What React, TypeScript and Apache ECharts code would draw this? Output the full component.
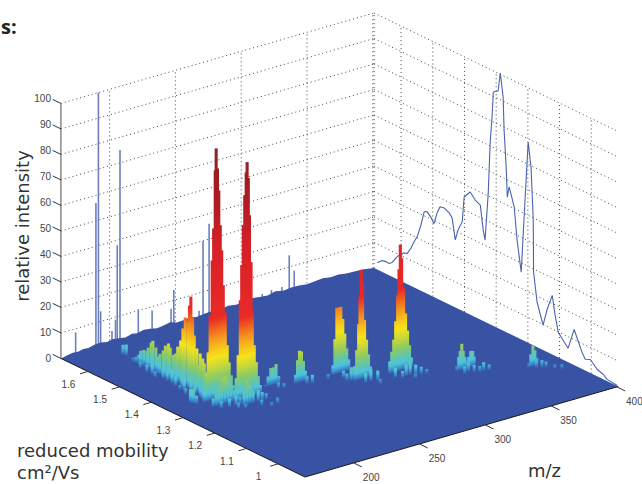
import React, { useEffect, useRef } from "react";
import * as echarts from "echarts";

// Axis ranges and ticks
const mzMin = 163;
const mzMax = 401;
const mobMin = 0.915;
const mobMax = 1.685;
const mzTicks = [200, 250, 300, 350, 400];
const mobTicks = [1.6, 1.5, 1.4, 1.3, 1.2, 1.1, 1];
const intensityTicks = [0, 10, 20, 30, 40, 50, 60, 70, 80, 90, 100];

// Mass spectrum projected on the back-left wall: [m/z, intensity]
const wallSpikes = [
  [174.2, 8.5], [189.6, 57], [191.5, 100], [193.2, 14], [201.8, 5], [205.8, 38], [207.9, 75], [204.5, 9],
  [221.8, 10.5], [232.3, 8.5], [246.7, 7], [248.8, 14], [271, 30], [275.6, 36], [268, 3], [316, 2.5],
  [323, 3], [331, 3], [336.5, 14.6], [340.3, 8],
];

// Low noise along the back-left edge of the floor
const edgeMz = [163, 168, 172, 176, 180, 184, 188, 193, 198, 202, 207, 212, 217, 221, 226, 231, 236, 241, 246, 251, 256, 261, 266, 272, 278, 284, 290, 296, 302, 308, 314, 320, 326, 332, 338, 344, 350, 356, 362, 368, 374, 380, 386, 392, 401];
const edgeZ = [0, 0.5, 0.9, 0.7, 1.2, 1, 1.5, 1.8, 1.2, 1.7, 1.4, 0.9, 1.6, 1.2, 1.9, 1.5, 1, 1.3, 1.8, 1, 1.1, 1.4, 0.9, 1.3, 1.5, 1.1, 1.7, 1.2, 1.4, 2, 1.6, 1.3, 2.1, 1.4, 1.7, 1.6, 1.2, 1.5, 1.8, 1.3, 1.5, 1, 0.9, 0.7, 0];

// Mobility spectrum projected on the back-right wall
const wallMob = [1.675, 1.66, 1.647, 1.638, 1.628, 1.615, 1.609, 1.6, 1.593, 1.581, 1.568, 1.559, 1.549, 1.537, 1.527, 1.518, 1.505, 1.496, 1.486, 1.477, 1.464, 1.448, 1.439, 1.429, 1.42, 1.407, 1.401, 1.382, 1.366, 1.35, 1.341, 1.335, 1.325, 1.319, 1.313, 1.309, 1.294, 1.287, 1.278, 1.275, 1.268, 1.265, 1.259, 1.25, 1.243, 1.234, 1.221, 1.209, 1.199, 1.19, 1.183, 1.182, 1.171, 1.152, 1.139, 1.123, 1.114, 1.104, 1.073, 1.054, 1.029, 1.019, 1.003, 0.981, 0.962, 0.95, 0.918];
const wallIntensity = [2.7, 4.4, 4.8, 4.6, 5.6, 8.3, 9.4, 10, 11.5, 11.9, 15, 17.9, 20.5, 25.9, 31.6, 32.2, 30.6, 28.8, 33.7, 36.6, 36.9, 35.9, 34.5, 26.5, 31, 34.9, 45, 48.1, 45.9, 44.9, 35.7, 32.1, 51.1, 71.1, 81.7, 91.7, 93, 100.5, 91.6, 78.9, 63.6, 53.1, 57.5, 53.7, 50.5, 38.2, 26.4, 55.4, 78.7, 69.4, 49, 28.8, 17.7, 9.8, 16.8, 23.2, 16, 9.8, 5.5, 14, 6.5, 4.4, 5.3, 2.7, 1.9, 0.7, 0.2];

// Surface: [m/z, mobility, intensity]
const tallPeakA = [
  [187.8, 1.336, 6.8], [189.3, 1.336, 11.6], [190.8, 1.336, 19.3], [192.3, 1.336, 33.6], [193.9, 1.336, 54.9], [195, 1.336, 67.3], [196.2, 1.336, 89.9], [196.9, 1.336, 98.4], [197.9, 1.336, 90.4], [198.9, 1.336, 81.6], [200, 1.336, 67.8], [201.1, 1.336, 57.8], [202.3, 1.336, 43.9], [203.8, 1.336, 33], [205.3, 1.336, 20], [206.8, 1.336, 13], [208.4, 1.336, 7.7], [209.9, 1.336, 3.6],
  [187.4, 1.306, 3.5], [189.7, 1.306, 5.6], [192, 1.306, 8], [194.2, 1.306, 10.5], [196.5, 1.306, 11], [198.8, 1.306, 9], [201, 1.306, 6.6], [203.4, 1.306, 3.6],
  [190, 1.291, 3], [195, 1.286, 3.5], [200, 1.286, 4], [203, 1.286, 3], [198, 1.27, 2.5], [201.5, 1.262, 2],
];
const tallPeakB = [
  [203.4, 1.306, 4.4], [204.9, 1.306, 8.9], [206.4, 1.306, 17.7], [208, 1.306, 39], [209.1, 1.306, 52.6], [210.3, 1.306, 68.1], [211.4, 1.306, 79.7], [212.5, 1.306, 88.5], [213.2, 1.306, 92.4], [214.1, 1.306, 86], [215, 1.306, 71.3], [216.2, 1.306, 52.7], [217.1, 1.306, 33.8], [218.6, 1.306, 19.8], [220.2, 1.306, 12.9], [221.7, 1.306, 7.2], [223.2, 1.306, 3.5],
  [203.7, 1.276, 6], [206, 1.276, 9.8], [208.3, 1.276, 7.5], [210.6, 1.276, 5], [214.4, 1.276, 4.6], [217.4, 1.276, 3.4], [220.5, 1.276, 2.5], [224, 1.256, 1.6], [222, 1.246, 2], [212, 1.255, 2.5], [216, 1.24, 1.8],
];
const ridge = [
  [194.1, 1.586, 1.6], [194.3, 1.578, 2.4], [194.6, 1.57, 3.7], [194, 1.562, 5.8], [194.4, 1.554, 6.6], [194.8, 1.546, 6.7], [194.2, 1.539, 8.4], [194.5, 1.531, 10.8], [194.1, 1.524, 12], [194.7, 1.517, 9.7], [194.3, 1.509, 6.7], [194, 1.501, 8.3], [194.5, 1.493, 10], [194.2, 1.485, 12.4], [194.6, 1.477, 13.7], [194, 1.469, 12.6], [194.4, 1.461, 10.3], [194.7, 1.454, 11.2], [194.2, 1.446, 14.4], [194.5, 1.438, 17.3], [194.3, 1.43, 22.5], [194.1, 1.422, 27.3], [194.4, 1.414, 26.5], [194.2, 1.409, 32.7], [194.3, 1.405, 36.5], [194.4, 1.4, 28.6], [194.2, 1.394, 21.9], [194.5, 1.387, 17.2], [194.3, 1.381, 10.9], [194.1, 1.375, 16], [194.4, 1.368, 14.4], [194.2, 1.362, 12.9], [194.5, 1.356, 9.7], [194.2, 1.349, 6.2],
  [190, 1.526, 3], [189, 1.496, 2.5], [191, 1.466, 4], [190, 1.436, 4], [189.5, 1.406, 5], [190.5, 1.376, 6], [190, 1.351, 4], [188.5, 1.416, 2], [187, 1.391, 2.5], [186, 1.366, 3],
  [191, 1.551, 2.5], [190.5, 1.511, 4], [191.5, 1.481, 5], [191, 1.451, 5.5], [191.5, 1.421, 6], [191, 1.391, 6.5], [191, 1.361, 5],
];
const peakC = [
  [304.5, 1.235, 5], [306, 1.235, 8.5], [307.5, 1.235, 13], [309, 1.235, 20], [310.5, 1.235, 30], [311.5, 1.235, 40], [312.5, 1.235, 49.5], [313.5, 1.235, 44], [315, 1.235, 32], [316.5, 1.235, 22], [318, 1.235, 15], [319.5, 1.235, 9], [321, 1.235, 4],
  [303, 1.211, 4], [306, 1.201, 3], [310, 1.206, 5], [313, 1.206, 6], [316, 1.201, 4], [319, 1.196, 3], [322, 1.191, 2], [312, 1.185, 2],
];
const peakD = [
  [280.5, 1.246, 6], [282, 1.246, 12], [283.5, 1.246, 22], [284.5, 1.246, 33], [285.5, 1.246, 43], [286.5, 1.246, 37], [288, 1.246, 23], [289.5, 1.246, 15], [291, 1.246, 9], [292.5, 1.246, 4],
  [292, 1.221, 4], [288, 1.226, 5], [284, 1.226, 4], [277, 1.256, 3], [279, 1.251, 5], [290, 1.205, 2],
];
const peakE = [
  [276, 1.296, 4], [277.5, 1.296, 14], [279, 1.296, 26], [280.5, 1.296, 26], [282, 1.296, 26], [283.5, 1.296, 21], [285, 1.296, 15], [286.5, 1.296, 9], [288, 1.296, 4.5],
  [278, 1.271, 3], [283, 1.266, 4], [287, 1.266, 3], [270, 1.286, 2],
];
const peakF = [
  [250, 1.306, 3.5], [251.5, 1.306, 9], [253, 1.306, 12.5], [254.5, 1.306, 12], [256, 1.306, 8], [257.5, 1.306, 4], [259, 1.306, 1.5],
  [255, 1.291, 3], [258, 1.286, 3.5],
];
const peakG = [
  [232, 1.326, 1], [234, 1.326, 4], [236, 1.326, 7], [238, 1.326, 7], [240, 1.326, 8], [242, 1.326, 3],
  [237, 1.306, 2.5], [240, 1.301, 2],
];
const peakH = [
  [338.8, 1.166, 2], [340.3, 1.166, 5.5], [341.4, 1.166, 7.7], [342.6, 1.166, 10.3], [343.7, 1.166, 7.4], [344.9, 1.166, 4.9], [346.4, 1.166, 3.1], [347.9, 1.166, 4.4], [349.4, 1.166, 6.5], [350.9, 1.166, 6.3], [352, 1.166, 3.8],
  [352, 1.136, 3.5], [355, 1.131, 2.5], [340, 1.146, 3], [346, 1.141, 3], [349, 1.136, 2.5], [344, 1.151, 3.5],
];
const peakI = [
  [376.7, 1.096, 1.8], [378.2, 1.096, 5.1], [379.8, 1.096, 8.4], [381.3, 1.096, 6.2], [382.8, 1.096, 2.9],
  [385, 1.076, 2.5], [383, 1.081, 3], [388, 1.061, 1.8], [391, 1.051, 2], [380, 1.086, 3],
];
const specks = [
  [181, 1.351, 5.5], [181.5, 1.344, 6], [182.5, 1.338, 3.5],
  [196, 1.626, 4], [196.5, 1.618, 4.5], [197, 1.631, 2],
];

// Height colour scale: [intensity, colour]
const heightColors: [number, string][] = [
  [0, "#3953a4"], [1.2, "#3a86c8"], [3, "#4cc3dc"], [6, "#66c6a4"], [9, "#8ecb62"], [13, "#c8d83a"], [16.5, "#f4e41a"],
  [21, "#f9b91c"], [25, "#f58a1f"], [32, "#ea2a26"], [60, "#d52027"], [72, "#b81d23"], [86, "#a01b20"], [101, "#882a2c"],
];

const FLOOR = "#3953a4";
const LABEL_FONT = '10px "Liberation Sans Narrow", "Liberation Sans", sans-serif';
const TITLE_FONT = '18px "DejaVu Sans", sans-serif';

function project(m: number, k: number, z: number): number[] {
  return [
    305 + 1.316 * (m - 163) - 317 * (k - 0.915),
    477 - 0.38 * (m - 163) - 154 * (k - 0.915) - 2.55 * z,
  ];
}

function mix(a: string, b: string, t: number): string {
  const p = (c: string, i: number) => parseInt(c.slice(i, i + 2), 16);
  const v = [1, 3, 5].map((i) => Math.round(p(a, i) + (p(b, i) - p(a, i)) * t));
  return `rgb(${v[0]},${v[1]},${v[2]})`;
}

function gradientFor(z: number) {
  const stops: { offset: number; color: string }[] = [];
  for (let i = 0; i < heightColors.length; i++) {
    const [h, c] = heightColors[i];
    if (h >= z) {
      const [h0, c0] = heightColors[i - 1];
      stops.unshift({ offset: 0, color: mix(c0, c, (z - h0) / (h - h0)) });
      break;
    }
    stops.unshift({ offset: 1 - h / z, color: c });
  }
  return { type: "linear", x: 0, y: 0, x2: 0, y2: 1, colorStops: stops };
}

const App = () => {
  const ref = useRef<HTMLDivElement>(null);
  useEffect(() => {
    document.body.style.margin = "0";
    const chart = echarts.init(ref.current!, undefined, { renderer: "svg" });

    const pt = (api: any, m: number, k: number, z: number) => api.coord(project(m, k, z));

    const segments: number[][] = [];
    for (const z of intensityTicks.slice(1)) {
      segments.push([mzMin, mobMax, z, mzMax, mobMax, z]);
      segments.push([mzMax, mobMax, z, mzMax, mobMin, z]);
    }
    for (const m of mzTicks) segments.push([m, mobMax, 0, m, mobMax, 100]);
    for (const k of mobTicks) segments.push([mzMax, k, 0, mzMax, k, 100]);
    segments.push([mzMax, mobMax, 0, mzMax, mobMax, 100]);

    const stalks = [...tallPeakA, ...tallPeakB, ...ridge, ...peakC, ...peakD, ...peakE, ...peakF, ...peakG, ...peakH, ...peakI, ...specks]
      .slice()
      .sort((a, b) => project(a[0], a[1], 0)[1] - project(b[0], b[1], 0)[1]);

    const axisSegments: any[] = [
      { s: [mzMin, mobMax, 0, mzMin, mobMax, 100], c: "#777777", w: 1.3 },
      { s: [mzMin, mobMax, 0, mzMin, mobMin, 0], c: "#1a1a1a", w: 1 },
      { s: [mzMin, mobMin, 0, mzMax, mobMin, 0], c: "#1a1a1a", w: 1 },
    ];
    for (const z of intensityTicks) axisSegments.push({ s: [mzMin, mobMax, z, mzMin, mobMax + 0.026, z], c: "#333333", w: 1 });
    for (const k of mobTicks) axisSegments.push({ s: [mzMin, k, 0, mzMin - 6, k, 0], c: "#333333", w: 1 });
    for (const m of mzTicks) axisSegments.push({ s: [m, mobMin, 0, m, mobMin - 0.026, 0], c: "#333333", w: 1 });

    const labels: any[] = [
      ...intensityTicks.map((z) => {
        const p = project(mzMin, mobMax, z);
        return { x: 51, y: p[1] - 0.05 * z, text: String(z), align: "right" };
      }),
      ...mobTicks.map((k) => {
        const p = project(mzMin, k, 0);
        return { x: p[0] - 19.5, y: p[1] + 12.5, text: String(k), align: "center" };
      }),
      ...mzTicks.map((m) => {
        const p = project(m, mobMin, 0);
        return { x: p[0] + 17.5, y: p[1] + 14.5, text: String(m), align: "center" };
      }),
    ];

    const titles = [
      { text: "reduced mobility", x: 17, y: 450 },
      { text: "cm²/Vs", x: 17, y: 472 },
      { text: "m/z", x: 528, y: 470 },
    ];

    chart.setOption({
      animation: false,
      grid: { left: 0, right: 0, top: 0, bottom: 0 },
      xAxis: { type: "value", min: 0, max: 642, show: false },
      yAxis: { type: "value", min: 0, max: 484, inverse: true, show: false },
      graphic: [
        {
          type: "text", x: 22, y: 226, rotation: Math.PI / 2,
          style: { text: "relative intensity", font: TITLE_FONT, fill: "#333", align: "center", verticalAlign: "middle" },
        },
        ...titles.map((t) => ({
          type: "text", x: t.x, y: t.y,
          style: { text: t.text, font: TITLE_FONT, fill: "#333", align: "left", verticalAlign: "middle" },
        })),
        {
          type: "text", x: 1, y: 26,
          style: { text: "s:", font: 'bold 20px "Open Sans", sans-serif', fill: "#222", align: "left", verticalAlign: "middle" },
        },
      ],
      series: [
        {
          type: "custom", z: 2, silent: true, clip: false, coordinateSystem: "cartesian2d",
          data: segments,
          renderItem: (_: any, api: any) => {
            const a = pt(api, api.value(0), api.value(1), api.value(2));
            const b = pt(api, api.value(3), api.value(4), api.value(5));
            return {
              type: "line",
              shape: { x1: a[0], y1: a[1], x2: b[0], y2: b[1] },
              style: { stroke: "#333333", lineWidth: 1, lineDash: [1, 3], opacity: 0.9 },
            };
          },
        },
        {
          type: "custom", z: 3, silent: true, clip: false, coordinateSystem: "cartesian2d",
          data: wallSpikes,
          renderItem: (_: any, api: any) => {
            const a = pt(api, api.value(0), mobMax, 0);
            const b = pt(api, api.value(0), mobMax, api.value(1));
            return {
              type: "line",
              shape: { x1: a[0], y1: a[1], x2: b[0], y2: b[1] },
              style: { stroke: "#6c80bd", lineWidth: 1.6 },
            };
          },
        },
        {
          type: "line", z: 3, silent: true, clip: false, symbol: "none",
          lineStyle: { color: "#4b64b0", width: 1.1 },
          data: wallMob.map((k, i) => project(mzMax, k, wallIntensity[i])),
        },
        {
          type: "custom", z: 4, silent: true, clip: false, coordinateSystem: "cartesian2d",
          data: [[0, 0]],
          renderItem: (_: any, api: any) => ({
            type: "polygon",
            shape: {
              points: [
                ...edgeMz.map((m, i) => pt(api, m, mobMax, edgeZ[i])),
                pt(api, mzMax, mobMin, 0),
                pt(api, mzMin, mobMin, 0),
              ],
            },
            style: { fill: FLOOR },
          }),
        },
        {
          type: "custom", z: 5, silent: true, clip: false, coordinateSystem: "cartesian2d",
          data: stalks,
          renderItem: (_: any, api: any) => {
            const m = api.value(0), k = api.value(1), z = api.value(2);
            const b = pt(api, m, k, 0);
            const t = pt(api, m, k, z);
            const w = 1.55;
            return {
              type: "polygon",
              shape: { points: [[b[0] - w, t[1]], [b[0] + w, t[1]], [b[0] + w, b[1]], [b[0] - w, b[1]]] },
              style: { fill: gradientFor(z) },
            };
          },
        },
        {
          type: "custom", z: 6, silent: true, clip: false, coordinateSystem: "cartesian2d",
          data: axisSegments.map((d) => d.s),
          renderItem: (p: any, api: any) => {
            const a = pt(api, api.value(0), api.value(1), api.value(2));
            const b = pt(api, api.value(3), api.value(4), api.value(5));
            const d = axisSegments[p.dataIndex];
            return {
              type: "line",
              shape: { x1: a[0], y1: a[1], x2: b[0], y2: b[1] },
              style: { stroke: d.c, lineWidth: d.w },
            };
          },
        },
        {
          type: "custom", z: 7, silent: true, clip: false, coordinateSystem: "cartesian2d",
          data: labels.map((l) => [l.x, l.y]),
          renderItem: (p: any, api: any) => {
            const l = labels[p.dataIndex];
            const c = api.coord([l.x, l.y]);
            return {
              type: "text", x: c[0], y: c[1],
              style: { text: l.text, font: LABEL_FONT, fill: "#444", align: l.align, verticalAlign: "middle" },
            };
          },
        },
      ],
    });
    return () => chart.dispose();
  }, []);
  return <div ref={ref} style={{ width: 642, height: 484, background: "#fff" }} />;
};

export default App;
